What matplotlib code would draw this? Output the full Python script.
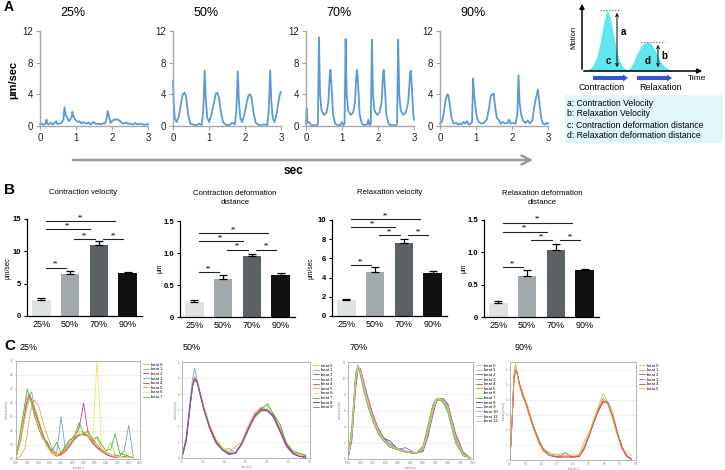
import matplotlib
matplotlib.use("Agg")
import matplotlib.pyplot as plt
from matplotlib.patches import FancyArrow, Rectangle

plt.rcParams['font.family'] = ['Liberation Sans', 'DejaVu Sans']

# ---------------- data ----------------
# A: velocity traces (sec, um/sec)
a25_t = [0.00, 0.05, 0.10, 0.15, 0.18, 0.20, 0.23, 0.30, 0.35, 0.40, 0.45, 0.48, 0.55, 0.60, 0.65, 0.68, 0.72, 0.76, 0.80, 0.85,
         0.88, 0.90, 0.93, 0.97, 1.00, 1.05, 1.10, 1.15, 1.20, 1.30, 1.35, 1.40, 1.50, 1.55, 1.60, 1.70, 1.75, 1.80, 1.85, 1.88,
         1.92, 1.96, 2.00, 2.05, 2.10, 2.15, 2.20, 2.25, 2.30, 2.40, 2.45, 2.50, 2.60, 2.65, 2.70, 2.80, 2.85, 2.90, 3.00]
a25_v = [0.2, 0.3, 0.15, 0.3, 0.8, 0.3, 0.2, 0.4, 0.2, 0.35, 0.6, 0.25, 0.3, 0.4, 0.8, 2.4, 1.3, 1.0, 0.6, 0.9,
         1.1, 1.8, 1.2, 0.9, 0.7, 0.5, 0.6, 0.3, 0.5, 0.3, 0.45, 0.2, 0.5, 0.25, 0.3, 0.2, 0.35, 0.3, 0.9, 1.9,
         1.2, 0.4, 0.6, 0.8, 0.8, 0.85, 0.7, 0.5, 0.3, 0.45, 0.25, 0.3, 0.2, 0.4, 0.2, 0.3, 0.2, 0.15, 0.25]
a50_t = [0.00, 0.02, 0.05, 0.10, 0.16, 0.22, 0.27, 0.32, 0.36, 0.42, 0.48, 0.55, 0.65, 0.72, 0.80, 0.84, 0.88, 0.91, 0.95, 1.00,
         1.07, 1.14, 1.19, 1.23, 1.27, 1.33, 1.39, 1.45, 1.55, 1.65, 1.72, 1.76, 1.80, 1.83, 1.87, 1.92, 1.98, 2.05, 2.10, 2.14,
         2.18, 2.24, 2.30, 2.38, 2.45, 2.55, 2.62, 2.66, 2.70, 2.73, 2.77, 2.82, 2.88, 2.94, 2.98, 3.00]
a50_v = [5.7, 3.0, 1.0, 0.5, 1.2, 2.8, 4.0, 4.2, 3.8, 1.5, 0.3, 0.2, 0.1, 0.3, 0.15, 2.0, 7.0, 3.5, 1.1, 0.5,
         1.5, 3.0, 4.1, 4.2, 3.7, 1.8, 0.5, 0.2, 0.1, 0.4, 0.2, 2.0, 6.9, 3.2, 1.0, 0.5, 1.4, 3.0, 3.9, 4.0,
         3.6, 1.6, 0.4, 0.15, 0.1, 0.2, 0.1, 2.0, 7.0, 3.3, 1.0, 0.5, 1.6, 3.3, 4.2, 4.3]
a70_t = [0.00, 0.02, 0.04, 0.08, 0.15, 0.22, 0.30, 0.33, 0.36, 0.39, 0.43, 0.50, 0.57, 0.62, 0.66, 0.68, 0.71, 0.75, 0.81, 0.88,
         0.95, 1.00, 1.04, 1.07, 1.10, 1.13, 1.17, 1.24, 1.31, 1.36, 1.40, 1.42, 1.45, 1.49, 1.55, 1.62, 1.70, 1.73, 1.77, 1.80,
         1.83, 1.86, 1.90, 1.97, 2.04, 2.10, 2.14, 2.16, 2.19, 2.23, 2.29, 2.36, 2.45, 2.50, 2.53, 2.56, 2.59, 2.63, 2.70, 2.77,
         2.84, 2.89, 2.91, 2.94, 2.98, 3.00]
a70_v = [0.3, 2.2, 0.4, 0.5, 0.1, 0.1, 0.1, 0.3, 11.2, 4.0, 2.0, 1.4, 1.7, 3.0, 6.5, 7.1, 5.0, 1.5, 0.3, 0.1,
         0.1, 0.5, 0.1, 0.3, 11.0, 4.0, 2.0, 1.4, 1.7, 3.0, 6.5, 7.1, 5.0, 1.5, 0.3, 0.1, 0.2, 0.8, 0.1, 0.3,
         10.9, 4.0, 2.0, 1.4, 1.7, 3.0, 6.5, 7.1, 5.0, 1.5, 0.3, 0.1, 0.1, 0.1, 0.3, 10.9, 4.0, 2.0, 1.4, 1.7,
         3.0, 6.5, 7.0, 5.0, 1.5, 0.8]
a90_t = [0.00, 0.05, 0.10, 0.15, 0.20, 0.23, 0.27, 0.32, 0.38, 0.45, 0.50, 0.55, 0.60, 0.65, 0.70, 0.75, 0.80, 0.85, 0.89, 0.92,
         0.95, 0.99, 1.03, 1.08, 1.15, 1.22, 1.30, 1.36, 1.41, 1.45, 1.49, 1.53, 1.58, 1.63, 1.68, 1.75, 1.82, 1.88, 1.92, 1.96,
         2.03, 2.10, 2.15, 2.18, 2.21, 2.26, 2.32, 2.38, 2.44, 2.50, 2.57, 2.62, 2.67, 2.72, 2.76, 2.81, 2.86, 2.92, 2.96, 3.00]
a90_v = [0.3, 0.5, 1.5, 3.2, 4.0, 3.9, 2.8, 1.0, 0.3, 0.4, 0.2, 0.3, 0.2, 0.5, 0.3, 0.6, 0.2, 0.3, 0.5, 6.0,
         3.8, 2.2, 1.0, 0.5, 0.3, 0.4, 0.8, 2.2, 3.8, 4.0, 4.1, 2.5, 1.0, 0.8, 0.3, 0.5, 0.3, 0.4, 0.8, 0.3,
         0.4, 0.3, 1.5, 6.4, 3.0, 1.3, 0.6, 0.4, 0.7, 0.3, 0.8, 2.5, 3.6, 4.6, 3.0, 1.0, 0.3, 0.2, 0.4, 0.3]
a_titles = ["25%", "50%", "70%", "90%"]

# schematic motion curve
motion_t = [0, 5, 10, 15, 18, 21, 24, 25, 26, 29, 32, 35, 38, 41, 44, 46, 48, 51, 54, 57, 60, 63, 65, 67, 70, 73, 76, 79, 82, 86, 90, 96]
motion_v = [0, 1, 4, 14, 28, 45, 58, 61, 60, 50, 34, 19, 9, 4, 1.5, 1, 3, 8, 15, 21, 26, 28.5, 29, 28.5, 26, 21, 15, 9, 5, 2, 0.5, 0]
key_lines = ["a: Contraction Velocity", "b: Relaxation Velocity",
             "c: Contraction deformation distance", "d: Relaxation deformation distance"]

# B: bar charts
groups = ["25%", "50%", "70%", "90%"]
cv_mean = [2.55, 6.5, 11.0, 6.6]
cv_err = [0.3, 0.5, 0.6, 0.2]
cd_mean = [0.235, 0.59, 0.95, 0.65]
cd_err = [0.025, 0.06, 0.04, 0.03]
rv_mean = [1.7, 4.6, 7.6, 4.5]
rv_err = [0.05, 0.5, 0.4, 0.2]
rd_mean = [0.21, 0.64, 1.04, 0.72]
rd_err = [0.03, 0.08, 0.09, 0.03]
sig_pairs = [(0, 3), (0, 2), (1, 2), (2, 3), (0, 1)]
cv_sig = [14.7, 13.4, 11.9, 11.9, 7.5]
cd_sig = [1.31, 1.18, 1.05, 1.05, 0.70]
rv_sig = [10.1, 9.25, 8.4, 8.4, 5.3]
rd_sig = [1.46, 1.32, 1.19, 1.19, 0.77]
b_titles = ["Contraction velocity", "Contraction deformation\ndistance",
            "Relaxation velocity", "Relaxation deformation\ndistance"]
b_units = ["\u00b5m/sec", "\u00b5m", "\u00b5m/sec", "\u00b5m"]
b_yticks = [[0, 5, 10, 15], [0, 0.5, 1.0, 1.5], [0, 2, 4, 6, 8, 10], [0, 0.5, 1.0, 1.5]]
b_yticklabels = [["0", "5", "10", "15"], ["0", "0.5", "1.0", "1.5"],
                 ["0", "2", "4", "6", "8", "10"], ["0", "0.5", "1.0", "1.5"]]

# C: overlaid beats
c25_t = [0.00, 0.02, 0.04, 0.05, 0.06, 0.07, 0.08, 0.10, 0.12, 0.14, 0.16, 0.18, 0.20, 0.22, 0.24, 0.26, 0.28, 0.30, 0.32, 0.34,
         0.36, 0.38, 0.40, 0.42, 0.44, 0.46, 0.48, 0.50, 0.52]
c25_beats = [
    [0.05, 0.9, 1.9, 2.2, 2.3, 2.1, 1.8, 1.2, 0.9, 0.45, 0.25, 0.15, 0.25, 0.5, 0.7, 0.75, 1.0, 0.95, 0.8, 0.6, 0.75, 0.35, 0.25, 0.6, 0.15, 0.1, 0.3, 0.08, 0.05],
    [0.0, 0.1, 0.4, 0.9, 1.5, 1.9, 2.1, 1.9, 1.3, 0.8, 0.4, 0.2, 0.15, 0.25, 0.45, 0.7, 0.85, 0.9, 0.85, 0.6, 0.4, 0.3, 0.2, 0.1, 0.08, 0.05, 0.05, 0.05, 0.05],
    [0.05, 0.7, 1.7, 2.2, 2.3, 2.1, 1.8, 1.3, 0.8, 0.5, 0.3, 0.15, 0.2, 0.4, 0.6, 0.85, 1.1, 2.0, 0.9, 0.7, 0.5, 0.3, 0.25, 0.15, 0.1, 0.05, 0.1, 0.05, 0.05],
    [0.05, 0.7, 1.6, 2.0, 2.3, 2.4, 1.9, 1.4, 0.8, 0.4, 0.25, 0.2, 1.5, 0.3, 0.5, 0.7, 0.85, 0.9, 0.8, 0.55, 0.4, 0.25, 0.2, 0.1, 0.15, 0.1, 0.3, 1.2, 0.1],
    [0.05, 0.8, 1.8, 2.1, 2.2, 2.0, 1.6, 1.1, 0.7, 0.6, 0.2, 0.1, 0.15, 0.3, 0.55, 0.75, 0.85, 0.9, 0.8, 0.6, 0.4, 0.3, 0.15, 0.1, 0.05, 0.05, 0.05, 0.05, 0.05],
    [0.05, 0.6, 1.5, 1.9, 2.1, 2.1, 1.9, 1.4, 0.9, 0.5, 0.3, 0.2, 0.2, 0.35, 0.6, 0.8, 0.9, 0.85, 0.8, 0.65, 0.5, 0.3, 0.2, 0.15, 0.1, 0.05, 0.05, 0.05, 0.05],
    [0.05, 0.8, 1.9, 2.2, 2.2, 2.0, 1.7, 1.2, 0.75, 0.4, 0.2, 0.15, 0.25, 0.4, 0.6, 0.8, 0.95, 1.0, 0.9, 0.7, 3.6, 0.4, 0.25, 0.15, 0.1, 0.05, 0.05, 0.05, 0.05],
    [0.05, 1.0, 2.0, 2.5, 2.2, 2.0, 1.7, 1.3, 0.8, 0.5, 0.3, 0.6, 0.2, 0.45, 0.7, 0.8, 1.3, 0.9, 1.0, 0.7, 0.8, 0.5, 0.3, 0.35, 0.9, 0.2, 0.15, 0.1, 0.05],
]
c50_t = [0.00, 0.02, 0.04, 0.05, 0.06, 0.07, 0.08, 0.10, 0.13, 0.16, 0.19, 0.22, 0.25, 0.28, 0.31, 0.34, 0.37, 0.40, 0.43, 0.46,
         0.49, 0.52, 0.55, 0.58]
c50_beats = [
    [0.05, 1.3, 3.7, 4.7, 5.1, 4.9, 4.4, 3.3, 2.0, 1.1, 0.6, 0.3, 0.35, 0.9, 1.9, 2.7, 3.1, 3.3, 2.7, 1.9, 0.9, 0.4, 0.3, 0.2],
    [0.05, 1.0, 3.4, 4.5, 4.9, 4.8, 4.3, 3.3, 2.0, 1.0, 0.5, 0.3, 0.3, 0.8, 1.7, 2.5, 2.9, 3.0, 2.6, 1.8, 0.9, 0.3, 0.1, 0.05],
    [0.05, 1.2, 3.6, 4.6, 5.0, 4.8, 4.2, 3.1, 1.8, 0.9, 0.5, 0.2, 0.3, 0.9, 1.8, 2.6, 3.1, 3.0, 2.5, 1.6, 0.7, 0.25, 0.1, 0.05],
    [0.05, 1.3, 3.9, 5.0, 5.6, 4.9, 4.3, 3.2, 1.9, 1.0, 0.5, 0.6, 0.3, 0.9, 1.8, 2.6, 3.0, 2.9, 2.6, 1.7, 0.8, 0.3, 0.1, 0.05],
    [0.05, 1.1, 3.5, 4.5, 4.9, 4.8, 4.3, 3.2, 1.9, 1.0, 0.5, 0.3, 0.3, 0.9, 1.8, 2.7, 3.0, 3.0, 2.6, 1.7, 0.8, 0.3, 0.1, 0.05],
    [0.05, 1.2, 3.6, 4.6, 5.0, 4.9, 4.3, 3.3, 2.0, 1.1, 0.6, 0.4, 0.7, 1.0, 2.0, 2.8, 3.2, 3.0, 2.7, 1.8, 0.9, 0.4, 0.2, 0.1],
    [0.05, 1.4, 3.8, 4.8, 5.1, 4.9, 4.4, 3.3, 2.1, 1.2, 0.7, 0.4, 0.3, 0.8, 1.8, 2.6, 3.0, 3.1, 2.8, 2.0, 1.0, 0.5, 0.3, 0.1],
    [0.05, 1.2, 3.5, 4.5, 4.9, 4.7, 4.2, 3.2, 1.9, 1.0, 0.5, 0.3, 0.3, 0.9, 1.8, 2.6, 3.0, 3.4, 2.7, 2.1, 0.9, 0.4, 0.3, 0.15],
    [0.05, 1.2, 3.6, 4.6, 5.0, 4.8, 4.3, 3.2, 1.9, 1.0, 0.5, 0.25, 0.3, 0.9, 1.8, 2.6, 3.0, 3.0, 2.6, 1.7, 0.8, 0.3, 0.1, 0.05],
    [0.05, 1.1, 3.5, 4.6, 5.0, 4.8, 4.3, 3.2, 1.9, 1.0, 0.5, 0.25, 0.3, 0.85, 1.75, 2.6, 3.0, 3.0, 2.6, 1.7, 0.8, 0.3, 0.1, 0.05],
]
c70_t = [0.0, 0.015, 0.03, 0.04, 0.05, 0.065, 0.08, 0.10, 0.12, 0.14, 0.165, 0.20, 0.23, 0.27, 0.30, 0.32, 0.34, 0.355, 0.38, 0.40,
         0.43, 0.46, 0.49]
c70_beats = [
    [0.05, 3.2, 9.7, 11.5, 10.7, 8.7, 6.9, 4.9, 3.4, 2.4, 1.7, 1.2, 0.9, 0.7, 1.3, 3.7, 6.3, 7.5, 7.2, 6.1, 2.4, 0.5, 0.05],
    [0.05, 2.8, 9.3, 11.4, 10.9, 8.9, 7.1, 5.1, 3.6, 2.6, 1.8, 1.25, 0.95, 0.75, 1.1, 3.3, 6.0, 7.4, 7.4, 6.4, 2.8, 0.7, 0.05],
    [0.05, 2.2, 8.5, 11.0, 11.2, 9.4, 7.6, 5.5, 3.9, 2.8, 1.9, 1.3, 1.0, 0.75, 0.9, 2.8, 5.5, 7.2, 7.5, 6.8, 3.2, 0.9, 0.1],
    [0.05, 3.0, 9.5, 11.5, 10.8, 8.8, 7.0, 5.0, 3.5, 2.5, 1.7, 1.2, 0.9, 0.7, 1.2, 3.5, 6.2, 7.5, 7.3, 6.3, 2.6, 0.6, 0.05],
    [0.05, 2.5, 8.9, 11.3, 11.0, 9.1, 7.3, 5.3, 3.7, 2.7, 1.8, 1.25, 0.95, 0.75, 1.0, 3.0, 5.8, 7.3, 7.5, 6.6, 3.0, 0.8, 0.1],
    [0.05, 3.1, 9.6, 11.5, 10.8, 8.8, 7.1, 5.1, 3.6, 2.6, 1.8, 1.25, 0.9, 0.7, 1.2, 3.5, 6.1, 7.4, 7.3, 6.3, 2.7, 0.7, 0.05],
    [0.05, 2.9, 9.4, 11.4, 10.9, 8.9, 7.1, 5.1, 3.6, 2.5, 1.7, 1.2, 0.9, 0.7, 1.2, 3.4, 6.1, 7.4, 7.4, 6.4, 2.7, 0.6, 0.05],
    [0.05, 4.0, 10.5, 11.6, 10.3, 8.2, 6.5, 4.6, 3.2, 2.3, 1.5, 1.1, 0.85, 0.65, 1.6, 4.2, 6.8, 7.5, 7.0, 5.7, 2.0, 0.4, 0.05],
    [0.05, 3.0, 9.5, 11.5, 10.8, 8.8, 7.0, 5.0, 3.5, 2.5, 2.3, 1.2, 0.9, 0.7, 1.2, 3.5, 6.2, 7.5, 7.3, 6.3, 2.6, 0.6, 0.05],
    [0.05, 3.0, 9.4, 11.4, 10.8, 8.8, 7.0, 5.0, 3.5, 2.5, 1.7, 1.2, 1.4, 0.7, 1.2, 3.5, 6.2, 7.5, 7.3, 6.3, 2.6, 0.6, 0.05],
    [0.05, 2.7, 9.2, 11.4, 11.0, 9.0, 7.2, 5.2, 3.6, 2.6, 1.8, 1.3, 0.95, 0.75, 1.1, 3.2, 5.9, 7.4, 7.4, 6.5, 2.8, 0.7, 0.1],
    [0.05, 3.4, 9.9, 11.5, 10.6, 8.6, 6.8, 4.8, 3.4, 2.4, 1.6, 1.15, 0.9, 0.7, 1.4, 3.8, 6.5, 7.5, 7.1, 6.0, 2.3, 0.5, 0.05],
    [0.05, 3.1, 9.6, 11.5, 10.8, 8.8, 7.0, 5.0, 3.5, 2.5, 1.7, 1.2, 0.9, 0.7, 1.2, 3.5, 6.2, 7.5, 7.3, 6.3, 2.6, 0.6, 0.05],
]
c90_t = [0.0, 0.015, 0.025, 0.035, 0.045, 0.06, 0.08, 0.10, 0.12, 0.15, 0.18, 0.21, 0.25, 0.30, 0.35, 0.40, 0.44, 0.47, 0.50, 0.53,
         0.56, 0.59, 0.62, 0.65, 0.68, 0.71, 0.74, 0.77]
c90_beats = [
    [0.05, 3.2, 5.6, 6.4, 5.9, 5.1, 4.6, 3.9, 3.4, 2.2, 1.5, 0.8, 0.5, 0.3, 0.5, 0.2, 0.4, 1.2, 1.7, 2.6, 3.5, 4.4, 3.9, 3.3, 1.9, 0.9, 0.3, 0.1],
    [0.05, 2.9, 5.4, 6.0, 5.8, 5.0, 4.3, 3.7, 3.0, 2.1, 1.2, 0.6, 0.3, 0.2, 0.3, 0.2, 0.2, 0.7, 1.6, 2.5, 3.3, 3.9, 3.8, 2.9, 1.9, 0.9, 0.3, 0.05],
    [0.05, 2.8, 5.3, 5.9, 5.8, 5.0, 4.3, 3.8, 3.1, 2.2, 1.3, 0.7, 0.3, 0.2, 0.2, 0.2, 0.25, 0.7, 1.5, 2.4, 3.2, 3.8, 3.8, 3.0, 1.9, 0.9, 0.3, 0.05],
    [0.05, 3.0, 5.5, 6.0, 5.8, 5.0, 4.3, 3.8, 3.1, 2.0, 1.4, 0.7, 0.4, 0.2, 0.45, 0.2, 0.3, 0.8, 1.6, 2.5, 3.3, 4.1, 3.8, 2.9, 1.8, 0.8, 0.25, 0.05],
    [0.05, 3.0, 5.5, 6.0, 5.8, 5.0, 4.3, 3.8, 3.1, 2.2, 1.3, 0.7, 0.3, 0.2, 0.2, 0.2, 0.25, 0.8, 1.6, 2.5, 3.3, 3.9, 3.8, 2.9, 1.8, 0.8, 0.25, 0.05],
    [0.05, 3.1, 5.6, 6.1, 5.7, 4.9, 4.2, 3.7, 3.0, 2.1, 1.2, 0.6, 0.3, 0.4, 0.2, 0.35, 0.3, 0.9, 1.7, 2.6, 3.4, 4.0, 3.7, 2.8, 1.7, 0.7, 0.5, 0.3],
]
c_titles = ["25%", "50%", "70%", "90%"]
beat_colors = ["#a6d64a", "#d6aa55", "#d8407a", "#6f9fc8", "#e2404f", "#f2a544",
               "#f0e45a", "#4fb043", "#3a3fc0", "#9a58c4", "#b4a6e6", "#8fcf8a", "#c9d85a"]

# ---------------- layout helpers ----------------
W, H = 725, 470
fig = plt.figure(figsize=(W / 100, H / 100), dpi=100)


def box(x0, y0, x1, y1):
    return [x0 / W, 1 - y1 / H, (x1 - x0) / W, (y1 - y0) / H]


ov = fig.add_axes([0, 0, 1, 1], zorder=5)
ov.set_xlim(0, W)
ov.set_ylim(H, 0)
ov.axis("off")
ov.patch.set_visible(False)

# ---------------- panel A ----------------
traces = [(a25_t, a25_v), (a50_t, a50_v), (a70_t, a70_v), (a90_t, a90_v)]
a_left = [40, 173, 306, 440]
for i, (t, v) in enumerate(traces):
    ax = fig.add_axes(box(a_left[i], 31, a_left[i] + 108, 126))
    ax.plot(t, v, color="#5b9bd5", lw=1.3, clip_on=False)
    ax.set_xlim(0, 3)
    ax.set_ylim(0, 12)
    ax.set_xticks([0, 1, 2, 3])
    ax.set_yticks([0, 4, 8, 12])
    for s in ["top", "right"]:
        ax.spines[s].set_visible(False)
    for s in ["left", "bottom"]:
        ax.spines[s].set_color("#a6a6a6")
        ax.spines[s].set_linewidth(1.0)
    ax.tick_params(colors="#a6a6a6", labelcolor="#222222", labelsize=7, length=3, width=0.8, pad=2)
    ov.text(a_left[i] + 33, 13, a_titles[i], fontsize=9, ha="center", va="center")

ov.text(13, 80, "\u00b5m/sec", rotation=90, fontsize=8, fontweight="bold", ha="center", va="center")
ov.annotate("", xy=(536, 160), xytext=(70, 160),
            arrowprops=dict(arrowstyle="->", color="#9a9a9a", lw=1.8, mutation_scale=16))
ov.text(294, 171, "sec", fontsize=8.5, fontweight="bold", ha="center", va="center")
ov.text(4, 7, "A", fontsize=10, fontweight="bold", ha="left", va="center")

# schematic
sx = [582 + t for t in motion_t]
sy = [71 - v for v in motion_v]
ov.fill_between(sx, sy, 71, color="#5fe6ee", lw=0)
ov.annotate("", xy=(582, 1), xytext=(582, 72),
            arrowprops=dict(arrowstyle="-|>", color="black", lw=1.1, mutation_scale=7))
ov.annotate("", xy=(705, 71), xytext=(581, 71),
            arrowprops=dict(arrowstyle="-|>", color="black", lw=1.1, mutation_scale=7))
ov.plot([600, 621], [10, 10], ls=":", color="#555555", lw=0.8)
ov.plot([641, 665], [42, 42], ls=":", color="#555555", lw=0.8)
ov.annotate("", xy=(617, 70), xytext=(617, 10),
            arrowprops=dict(arrowstyle="<->", color="black", lw=0.7, mutation_scale=5))
ov.annotate("", xy=(658, 70), xytext=(658, 42),
            arrowprops=dict(arrowstyle="<->", color="black", lw=0.7, mutation_scale=5))
ov.text(623, 32, "a", fontsize=7, fontweight="bold", ha="center", va="center")
ov.text(664, 56, "b", fontsize=7, fontweight="bold", ha="center", va="center")
ov.text(608, 61, "c", fontsize=7, fontweight="bold", ha="center", va="center")
ov.text(648, 61, "d", fontsize=7, fontweight="bold", ha="center", va="center")
ov.text(574, 37, "Motion", rotation=90, fontsize=5.5, ha="center", va="center")
ov.text(697, 79, "Time", fontsize=6, ha="center", va="center")
ov.add_patch(FancyArrow(593, 78, 35, 0, width=4, head_width=7, head_length=5,
                        length_includes_head=True, color="#2f55e0", lw=0))
ov.add_patch(FancyArrow(637, 78, 35, 0, width=4, head_width=7, head_length=5,
                        length_includes_head=True, color="#2f55e0", lw=0))
ov.text(602, 88, "Contraction", fontsize=6.5, ha="center", va="center")
ov.text(661, 88, "Relaxation", fontsize=6.5, ha="center", va="center")
ov.add_patch(Rectangle((565, 95), 158, 48, color="#e0f6f9", lw=0))
for k, line in enumerate(key_lines):
    ov.text(567, 103 + k * 11, line, fontsize=6.2, ha="left", va="center")

# ---------------- panel B ----------------
b_means = [cv_mean, cd_mean, rv_mean, rd_mean]
b_errs = [cv_err, cd_err, rv_err, rd_err]
b_sigs = [cv_sig, cd_sig, rv_sig, rd_sig]
b_boxes = [(27, 219, 142, 316), (180, 221, 295, 317), (332, 220, 447, 316), (484, 220, 599, 317)]
b_title_pos = [(83, 192), (235, 198), (390, 192), (542, 198)]
b_unit_x = [8, 160, 311, 464]
bar_colors = ["#dfe3e3", "#a3aaae", "#5b6265", "#111111"]
for i in range(4):
    ax = fig.add_axes(box(*b_boxes[i]))
    x = list(range(len(groups)))
    ax.bar(x, b_means[i], width=0.64, color=bar_colors)
    ax.errorbar(x, b_means[i], yerr=[[0] * 4, b_errs[i]], fmt="none", ecolor="black",
                elinewidth=0.9, capsize=3, capthick=0.9)
    ax.set_xlim(-0.5, 3.5)
    ax.set_ylim(0, b_yticks[i][-1])
    ax.set_xticks(x)
    ax.set_xticklabels(groups, fontsize=6.5)
    ax.set_yticks(b_yticks[i])
    ax.set_yticklabels(b_yticklabels[i], fontsize=5.5, fontweight="bold")
    ax.tick_params(axis="x", length=0, pad=3)
    ax.tick_params(axis="y", length=2.5, width=0.8, pad=1.5)
    for s in ["top", "right"]:
        ax.spines[s].set_visible(False)
    for s in ["left", "bottom"]:
        ax.spines[s].set_linewidth(0.9)
    for (a, b), h in zip(sig_pairs, b_sigs[i]):
        x0 = a + 0.15
        x1 = b - 0.15 * (b - a)
        ax.plot([x0, x1], [h, h], color="#222222", lw=0.8, clip_on=False)
        ax.text((x0 + x1) / 2, h, "**", fontsize=5, ha="center", va="bottom", clip_on=False)
    ov.text(*b_title_pos[i], b_titles[i], fontsize=5.6, ha="center", va="center", linespacing=1.3)
    ov.text(b_unit_x[i], 268, b_units[i], rotation=90, fontsize=4.8, ha="center", va="center")
ov.text(4, 190, "B", fontsize=11, fontweight="bold", ha="left", va="center")

# ---------------- panel C ----------------
c_data = [(c25_t, c25_beats), (c50_t, c50_beats), (c70_t, c70_beats), (c90_t, c90_beats)]
c_boxes = [(16, 361, 140, 459), (182, 362, 310, 458), (348, 362, 473, 459), (510, 362, 636, 460)]
c_title_x = [20, 183, 350, 515]
c_xlims = [0.55, 0.60, 0.50, 0.78]
c_ylims = [3.5, 5.7, 12, 6.5]
c_xstep = [0.05, 0.1, 0.05, 0.1]
c_ystep = [0.5, 1, 2, 1]
for i, (t, beats) in enumerate(c_data):
    ax = fig.add_axes(box(*c_boxes[i]))
    for k, b in enumerate(beats):
        ax.plot(t, b, color=beat_colors[k], lw=0.6, label="beat %d" % k)
    ax.set_xlim(0, c_xlims[i])
    ax.set_ylim(0, c_ylims[i])
    nx = int(round(c_xlims[i] / c_xstep[i]))
    ny = int(round(c_ylims[i] / c_ystep[i]))
    ax.set_xticks([c_xstep[i] * j for j in range(nx + 1)])
    ax.set_yticks([c_ystep[i] * j for j in range(ny + 1)])
    ax.tick_params(labelsize=2.0, length=1, width=0.3, pad=0.6, colors="#777777")
    ax.yaxis.grid(True, color="#e4e4e4", lw=0.4)
    ax.set_axisbelow(True)
    for s in ax.spines.values():
        s.set_color("#aaaaaa")
        s.set_linewidth(0.6)
    ax.set_xlabel("time [sec]", fontsize=1.8, labelpad=0.4, color="#777777")
    ax.set_ylabel("motion [um/sec]", fontsize=1.8, labelpad=0.4, color="#777777")
    ax.legend(loc="upper left", bbox_to_anchor=(1.01, 1.0), frameon=False, fontsize=3.0,
              handlelength=1.5, handletextpad=0.4, labelspacing=0.15, borderaxespad=0)
    ov.text(c_title_x[i], 347, c_titles[i], fontsize=6.5, ha="left", va="center")
ov.text(4, 346, "C", fontsize=11, fontweight="bold", ha="left", va="center")

fig.savefig("out.png", dpi=100)
